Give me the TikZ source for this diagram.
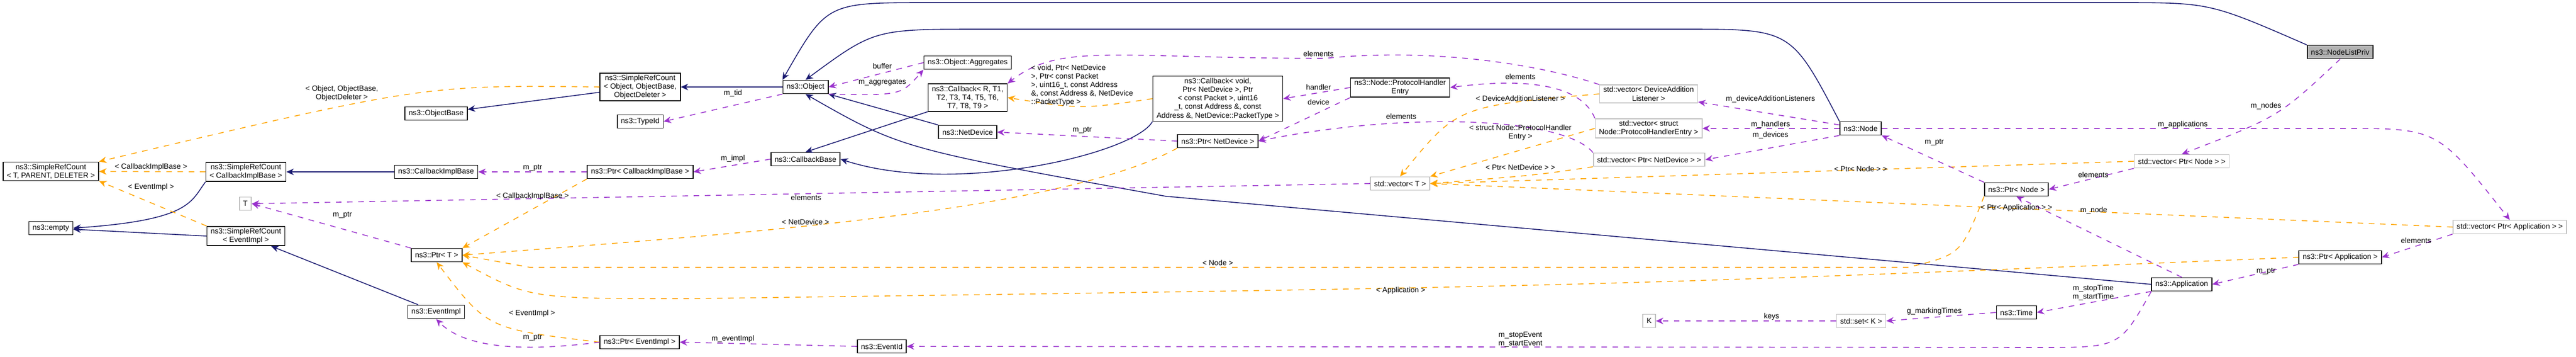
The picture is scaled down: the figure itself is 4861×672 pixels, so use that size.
\documentclass[tikz,border=0pt]{standalone}
\usepackage{fontspec}
\setmainfont{Liberation Sans}
\usetikzlibrary{arrows.meta}
\definecolor{inh}{HTML}{191970}
\definecolor{use}{HTML}{9A32CD}
\definecolor{tpl}{HTML}{FFA500}
\tikzset{
  cls/.style={draw=black,line width=0.5pt,fill=white,inner xsep=2pt,inner ysep=1pt,
    minimum height=0.25cm,align=center,font=\fontsize{4}{4.6}\selectfont},
  ext/.style={cls,draw=black!25},
  lbl/.style={inner sep=0pt,align=center,font=\fontsize{4}{4.6}\selectfont},
  isa/.style={draw=inh,line width=0.45pt,-{Stealth[length=4pt,width=3.5pt]}},
  has/.style={draw=use,dashed,line width=0.45pt,-{Stealth[length=4pt,width=3.5pt]}},
  inst/.style={draw=tpl,dashed,line width=0.45pt,-{Stealth[length=4pt,width=3.5pt]}},
}
\begin{document}
\begin{tikzpicture}[x=0.01cm,y=-0.01cm]
\useasboundingbox (0,0) rectangle (4861,672);
% classes
\node[cls] (srcT) at (96,323) {ns3::SimpleRefCount\\< T, PARENT, DELETER >};
\node[cls] (srcCIB) at (464,324) {ns3::SimpleRefCount\\< CallbackImplBase >};
\node[cls] (empty) at (96,430) {ns3::empty};
\node[cls] (srcEI) at (464,445) {ns3::SimpleRefCount\\< EventImpl >};
\node[ext] (T) at (463,384) {T};
\node[cls] (objBase) at (823,214) {ns3::ObjectBase};
\node[cls] (cibase) at (823,324) {ns3::CallbackImplBase};
\node[cls] (ptrT) at (824,481) {ns3::Ptr< T >};
\node[cls] (evImpl) at (823,588) {ns3::EventImpl};
\node[cls] (srcObj) at (1208,164) {ns3::SimpleRefCount\\< Object, ObjectBase,\\ObjectDeleter >};
\node[cls] (object) at (1520,164) {ns3::Object};
\node[cls] (typeId) at (1208,229) {ns3::TypeId};
\node[cls] (aggr) at (1826,118) {ns3::Object::Aggregates};
\node[cls] (cbR) at (1826,184) {ns3::Callback< R, T1,\\T2, T3, T4, T5, T6,\\T7, T8, T9 >};
\node[cls] (netDev) at (1826,249) {ns3::NetDevice};
\node[cls] (cbBase) at (1520,300) {ns3::CallbackBase};
\node[cls] (ptrCIB) at (1208,324) {ns3::Ptr< CallbackImplBase >};
\node[cls] (ptrEI) at (1207,645) {ns3::Ptr< EventImpl >};
\node[cls] (evId) at (1664,653) {ns3::EventId};
\node[cls] (cbVoid) at (2298,186) {ns3::Callback< void,\\Ptr< NetDevice >, Ptr\\< const Packet >, uint16\\\_t, const Address \&, const\\Address \&, NetDevice::PacketType >};
\node[cls] (ptrND) at (2298,266) {ns3::Ptr< NetDevice >};
\node[cls] (phEntry) at (2642,165) {ns3::Node::ProtocolHandler\\Entry};
\node[ext] (dalVec) at (3111,177) {std::vector< DeviceAddition\\Listener >};
\node[ext] (phVec) at (3111,242) {std::vector< struct\\Node::ProtocolHandlerEntry >};
\node[ext] (ndVec) at (3112,301) {std::vector< Ptr< NetDevice > >};
\node[ext] (vecT) at (2642,346) {std::vector< T >};
\node[cls] (node) at (3511,242) {ns3::Node};
\node[ext] (K) at (3112,605) {K};
\node[ext] (setK) at (3512,605) {std::set< K >};
\node[cls,fill=black!30] (nlPriv) at (4416,98) {ns3::NodeListPriv};
\node[ext] (pnVec) at (4117,304) {std::vector< Ptr< Node > >};
\node[cls] (ptrNode) at (3805,357) {ns3::Ptr< Node >};
\node[ext] (paVec) at (4736,428) {std::vector< Ptr< Application > >};
\node[cls] (ptrApp) at (4416,485) {ns3::Ptr< Application >};
\node[cls] (app) at (4117,536) {ns3::Application};
\node[cls] (time) at (3805,589) {ns3::Time};
% inheritance
\draw[isa] (srcObj) -- (objBase);
\draw[isa] (object) -- (srcObj);
\draw[isa] (srcCIB.south west) .. controls (360,380) and (360,415) .. (empty.east);
\draw[isa] (srcEI.west) -- (empty);
\draw[isa] (cibase) -- (srcCIB);
\draw[isa] (evImpl) -- (srcEI);
\draw[isa] (nlPriv.north west) .. controls (4170,5) .. (4000,5) -- (1750,5) .. controls (1560,5) .. (object.north west);
\draw[isa] (node.north west) .. controls (3380,55) .. (3180,55) -- (1850,55) .. controls (1650,55) .. (object.north);
\draw[isa] (netDev.north west) -- (object.south east);
\draw[isa] (app.west) -- (2200,370) .. controls (1700,280) .. (object.south);
\draw[isa] (cbR.south west) -- (cbBase.north);
\draw[isa] (cbVoid.south west) .. controls (2140,290) and (1800,370) .. (cbBase.east);
% template instances
\draw[inst] (srcObj.west) .. controls (800,160) .. (srcT.north east);
\draw[inst] (srcCIB) -- (srcT);
\draw[inst] (srcEI.north west) -- (srcT.south east);
\draw[inst] (ptrCIB.south west) -- (ptrT.north east);
\draw[inst] (ptrND.south west) .. controls (2000,400) and (1400,440) .. (ptrT.east);
\draw[inst] (ptrNode.south west) .. controls (3700,480) .. (3600,504) -- (1000,504) -- (ptrT.east);
\draw[inst] (ptrApp.west) .. controls (3000,540) .. (1300,563) .. controls (1000,563) .. (ptrT.south east);
\draw[inst] (ptrEI.west) .. controls (920,620) .. (ptrT.south);
\draw[inst] (cbVoid.west) .. controls (2040,206) .. (cbR.east);
\draw[inst] (dalVec.west) .. controls (2750,200) .. (vecT.north);
\draw[inst] (phVec.west) -- (vecT.north east);
\draw[inst] (ndVec.south west) .. controls (2900,330) .. (vecT.east);
\draw[inst] (pnVec.west) -- (vecT.east);
\draw[inst] (paVec.west) -- (vecT.east);
% members
\draw[has] (ptrCIB) -- (cibase);
\draw[has] (ptrT.north west) -- (T.east);
\draw[has] (vecT.west) -- (T.east);
\draw[has] (ptrEI.west) .. controls (1000,662) and (880,660) .. (evImpl.south);
\draw[has] (object.south west) -- (typeId.east);
\draw[has] (aggr.west) -- (object.east);
\draw[has] (object.south east) .. controls (1700,180) .. (aggr.south west);
\draw[has] (cbBase.west) -- (ptrCIB.east);
\draw[has] (ptrND.west) -- (netDev.east);
\draw[has] (evId.west) -- (ptrEI.east);
\draw[has] (app.south west) .. controls (4000,655) .. (3850,655) -- (evId.east);
\draw[has] (dalVec.north west) .. controls (2900,120) and (2700,90) .. (2500,110) .. controls (2100,110) and (2000,80) .. (cbR.north east);
\draw[has] (phEntry.west) -- (cbVoid.east);
\draw[has] (phEntry.south west) -- (ptrND.east);
\draw[has] (ndVec.north west) .. controls (2950,220) and (2650,210) .. (ptrND.east);
\draw[has] (phVec.north west) .. controls (2980,150) and (2850,150) .. (phEntry.east);
\draw[has] (node) -- (dalVec);
\draw[has] (node) -- (phVec);
\draw[has] (node.south west) -- (ndVec.east);
\draw[has] (node.east) -- (4420,242) .. controls (4600,242) .. (paVec.north);
\draw[has] (ptrNode.north west) -- (node.south east);
\draw[has] (nlPriv.south) .. controls (4300,220) .. (pnVec.north);
\draw[has] (pnVec.south west) -- (ptrNode.east);
\draw[has] (app.north) -- (ptrNode.south);
\draw[has] (paVec.south west) -- (ptrApp.east);
\draw[has] (ptrApp.south west) -- (app.east);
\draw[has] (app.south west) -- (time.east);
\draw[has] (time.west) -- (setK.east);
\draw[has] (setK) -- (K);
% labels
\node[lbl] (l1) at (645,176) {< Object, ObjectBase,\\ObjectDeleter >};
\node[lbl] (l2) at (285,315) {< CallbackImplBase >};
\node[lbl] (l3) at (285,353) {< EventImpl >};
\node[lbl] (l4) at (646,405) {m\_ptr};
\node[lbl] (l5) at (1005,370) {< CallbackImplBase >};
\node[lbl] (l6) at (1005,316) {m\_ptr};
\node[lbl] (l7) at (1004,591) {< EventImpl >};
\node[lbl] (l8) at (1005,636) {m\_ptr};
\node[lbl] (l9) at (1665,124) {buffer};
\node[lbl] (l10) at (1665,155) {m\_aggregates};
\node[lbl] (l11) at (1383,176) {m\_tid};
\node[lbl] (l12) at (1383,299) {m\_impl};
\node[lbl] (l13) at (1521,372) {elements};
\node[lbl] (l14) at (1520,418) {< NetDevice >};
\node[lbl,align=left] (l15) at (2042,161) {< void, Ptr< NetDevice\\>, Ptr< const Packet\\>, uint16\_t, const Address\\\&, const Address \&, NetDevice\\::PacketType >};
\node[lbl] (l16) at (2042,245) {m\_ptr};
\node[lbl] (l17) at (2298,495) {< Node >};
\node[lbl] (l18) at (1383,639) {m\_eventImpl};
\node[lbl] (l19) at (2488,101) {elements};
\node[lbl] (l20) at (2488,164) {handler};
\node[lbl] (l21) at (2488,192) {device};
\node[lbl] (l22) at (2869,144) {elements};
\node[lbl] (l23) at (2869,185) {< DeviceAdditionListener >};
\node[lbl] (l24) at (2644,219) {elements};
\node[lbl] (l25) at (2869,250) {< struct Node::ProtocolHandler\\Entry >};
\node[lbl] (l26) at (2869,315) {< Ptr< NetDevice > >};
\node[lbl] (l27) at (3341,187) {m\_deviceAdditionListeners};
\node[lbl] (l28) at (3341,235) {m\_handlers};
\node[lbl] (l29) at (3341,255) {m\_devices};
\node[lbl] (l30) at (3511,318) {< Ptr< Node > >};
\node[lbl] (l31) at (2643,548) {< Application >};
\node[lbl] (l32) at (3343,597) {keys};
\node[lbl] (l33) at (2869,640) {m\_stopEvent\\m\_startEvent};
\node[lbl] (l34) at (4276,200) {m\_nodes};
\node[lbl] (l35) at (4119,235) {m\_applications};
\node[lbl] (l36) at (3650,268) {m\_ptr};
\node[lbl] (l37) at (3950,329) {elements};
\node[lbl] (l38) at (3805,392) {< Ptr< Application > >};
\node[lbl] (l39) at (3951,397) {m\_node};
\node[lbl] (l40) at (4559,453) {elements};
\node[lbl] (l41) at (4276,511) {m\_ptr};
\node[lbl] (l42) at (3950,552) {m\_stopTime\\m\_startTime};
\node[lbl] (l43) at (3650,587) {g\_markingTimes};
\end{tikzpicture}
\end{document}
